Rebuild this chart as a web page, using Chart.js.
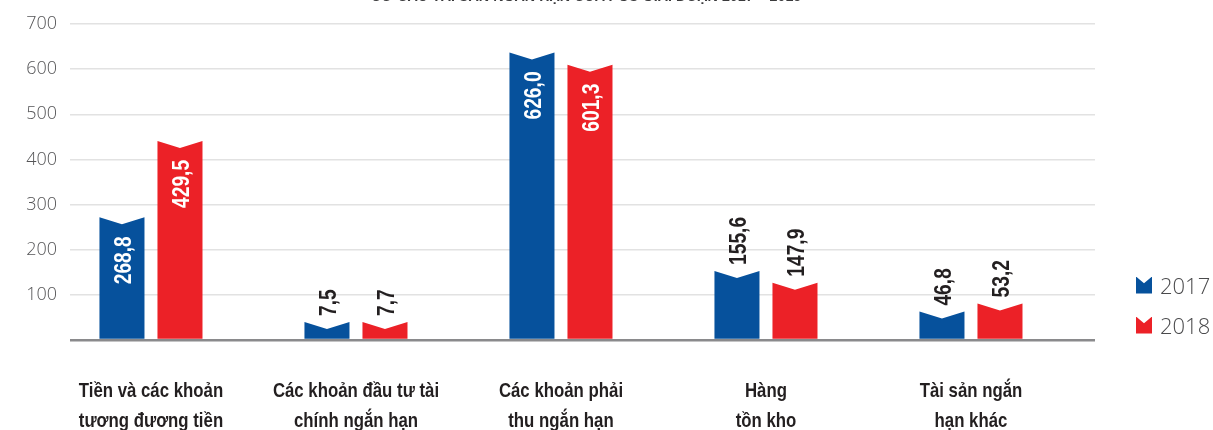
<!DOCTYPE html>
<html>
<head>
<meta charset="utf-8">
<script src="https://cdn.jsdelivr.net/npm/chart.js@4.4.1/dist/chart.umd.min.js"></script>
<style>
  html, body { margin: 0; padding: 0; background: #ffffff; overflow: hidden; }
  #wrap { position: relative; width: 1213px; height: 430px; overflow: hidden; }
  #title { position: absolute; left: 0; width: 1172px; top: -14px; text-align: center;
    font: 700 17px "Liberation Sans", sans-serif; color: #3a3a3c; white-space: nowrap;
    transform: scaleX(0.84); transform-origin: 586px 0; }
  #legend { position: absolute; left: 1136px; top: 271px; font: 300 22px "Open Sans", sans-serif; color: #4a4a4c; }
  .item { display: flex; align-items: center; height: 28px; margin-bottom: 12px; }
  .mk { width: 16px; height: 17px; margin-right: 8px; clip-path: polygon(0 0, 50% 40%, 100% 0, 100% 100%, 0 100%); }
</style>
</head>
<body>
<div id="wrap">
  <canvas id="c" width="1213" height="430"></canvas>
  <div id="title">CƠ CẤU TÀI SẢN NGẮN HẠN CỦA PGS GIAI ĐOẠN 2017 – 2018</div>
  <div id="legend"></div>
</div>
<script>
// ---- data ----
const categories = [
  ["Tiền và các khoản", "tương đương tiền"],
  ["Các khoản đầu tư tài", "chính ngắn hạn"],
  ["Các khoản phải", "thu ngắn hạn"],
  ["Hàng", "tồn kho"],
  ["Tài sản ngắn", "hạn khác"]
];
const seriesNames = ["2017", "2018"];
// printed values
const values2017 = [268.8, 7.5, 626.0, 155.6, 46.8];
const values2018 = [429.5, 7.7, 601.3, 147.9, 53.2];
// bar heights as drawn in the picture (read against the axis)
const heights2017 = [272, 40, 637, 153, 63];
const heights2018 = [441, 40, 610, 127, 81];
const yTicks = [0, 100, 200, 300, 400, 500, 600, 700];

const colors = ["#06519c", "#ec2127"];
const boldFont = '"Liberation Sans", Arial, sans-serif';
const squeeze = 0.8;

// legend (HTML)
const lg = document.getElementById('legend');
seriesNames.forEach((n, i) => {
  const d = document.createElement('div');
  d.className = 'item';
  d.innerHTML = '<span class="mk" style="background:' + colors[i] + '"></span><span>' + n + '</span>';
  lg.appendChild(d);
});

const notchedBars = {
  id: 'notchedBars',
  beforeDatasetDraw(chart, args) {
    const ctx = chart.ctx;
    const meta = args.meta;
    const ds = chart.data.datasets[args.index];
    ctx.save();
    ctx.fillStyle = ds.backgroundColor;
    meta.data.forEach(el => {
      const p = el.getProps(['x', 'y', 'base', 'width'], true);
      const l = p.x - p.width / 2, r = p.x + p.width / 2;
      const notch = 7;
      ctx.beginPath();
      ctx.moveTo(l, p.base);
      ctx.lineTo(l, p.y);
      ctx.lineTo(p.x, p.y + notch);
      ctx.lineTo(r, p.y);
      ctx.lineTo(r, p.base);
      ctx.closePath();
      ctx.fill();
    });
    ctx.restore();
    return false;
  },
  afterDatasetsDraw(chart) {
    const ctx = chart.ctx;
    chart.data.datasets.forEach((ds, di) => {
      const meta = chart.getDatasetMeta(di);
      meta.data.forEach((el, i) => {
        const p = el.getProps(['x', 'y'], true);
        const v = ds.printed[i];
        const txt = v.toFixed(1).replace('.', ',');
        const fs = 24;
        ctx.save();
        ctx.font = '700 ' + fs + 'px ' + boldFont;
        ctx.textBaseline = 'alphabetic';
        const inside = v >= 200;
        let oy;
        if (inside) {
          ctx.fillStyle = '#ffffff';
          ctx.textAlign = 'right';
          oy = p.y + 19;
        } else {
          ctx.fillStyle = '#231f20';
          ctx.textAlign = 'left';
          oy = p.y - 6;
        }
        ctx.translate(p.x + fs * 0.36, oy);
        ctx.rotate(-Math.PI / 2);
        ctx.scale(squeeze, 1);
        ctx.fillText(txt, 0, 0);
        ctx.restore();
      });
    });
  },
  afterDraw(chart) {
    // category labels under the x axis, condensed
    const ctx = chart.ctx;
    const xs = chart.scales.x;
    ctx.save();
    ctx.font = '700 21px ' + boldFont;
    ctx.fillStyle = '#231f20';
    ctx.textAlign = 'center';
    ctx.textBaseline = 'middle';
    categories.forEach((lines, i) => {
      const x = xs.getPixelForValue(i);
      lines.forEach((t, k) => {
        ctx.save();
        ctx.translate(x, chart.chartArea.bottom + 51 + k * 30);
        ctx.scale(squeeze, 1);
        ctx.fillText(t, 0, 0);
        ctx.restore();
      });
    });
    ctx.restore();
  }
};

const toPoints = arr => arr.map((v, i) => ({ x: i, y: v }));

new Chart(document.getElementById('c'), {
  type: 'bar',
  data: {
    datasets: [
      { label: seriesNames[0], data: toPoints(heights2017), printed: values2017, backgroundColor: colors[0] },
      { label: seriesNames[1], data: toPoints(heights2018), printed: values2018, backgroundColor: colors[1] }
    ]
  },
  options: {
    responsive: false,
    animation: false,
    devicePixelRatio: 1,
    categoryPercentage: 0.566,
    barPercentage: 0.776,
    layout: { padding: { top: 24, right: 118, left: 0, bottom: 0 } },
    plugins: { legend: { display: false }, tooltip: { enabled: false }, title: { display: false } },
    scales: {
      x: {
        type: 'linear',
        min: -0.395,
        max: 4.605,
        bounds: 'data',
        offset: false,
        grid: { display: false },
        border: { display: false },
        afterFit(s) { s.height = 90; },
        ticks: { display: false, stepSize: 1, includeBounds: false }
      },
      y: {
        min: 0,
        max: 700,
        afterFit(s) { s.width = 70; },
        afterBuildTicks(s) { s.ticks = yTicks.map(v => ({ value: v })); },
        border: { display: false },
        grid: {
          drawTicks: false,
          color: c => c.tick && c.tick.value === 0 ? '#8a8a8c' : '#e2e2e2',
          lineWidth: c => c.tick && c.tick.value === 0 ? 2.5 : 1.5
        },
        ticks: {
          padding: 13,
          color: '#555557',
          font: { family: '"Open Sans", sans-serif', size: 18, weight: '300' },
          callback: v => v === 0 ? '' : String(v)
        }
      }
    }
  },
  plugins: [notchedBars]
});
</script>
</body>
</html>
